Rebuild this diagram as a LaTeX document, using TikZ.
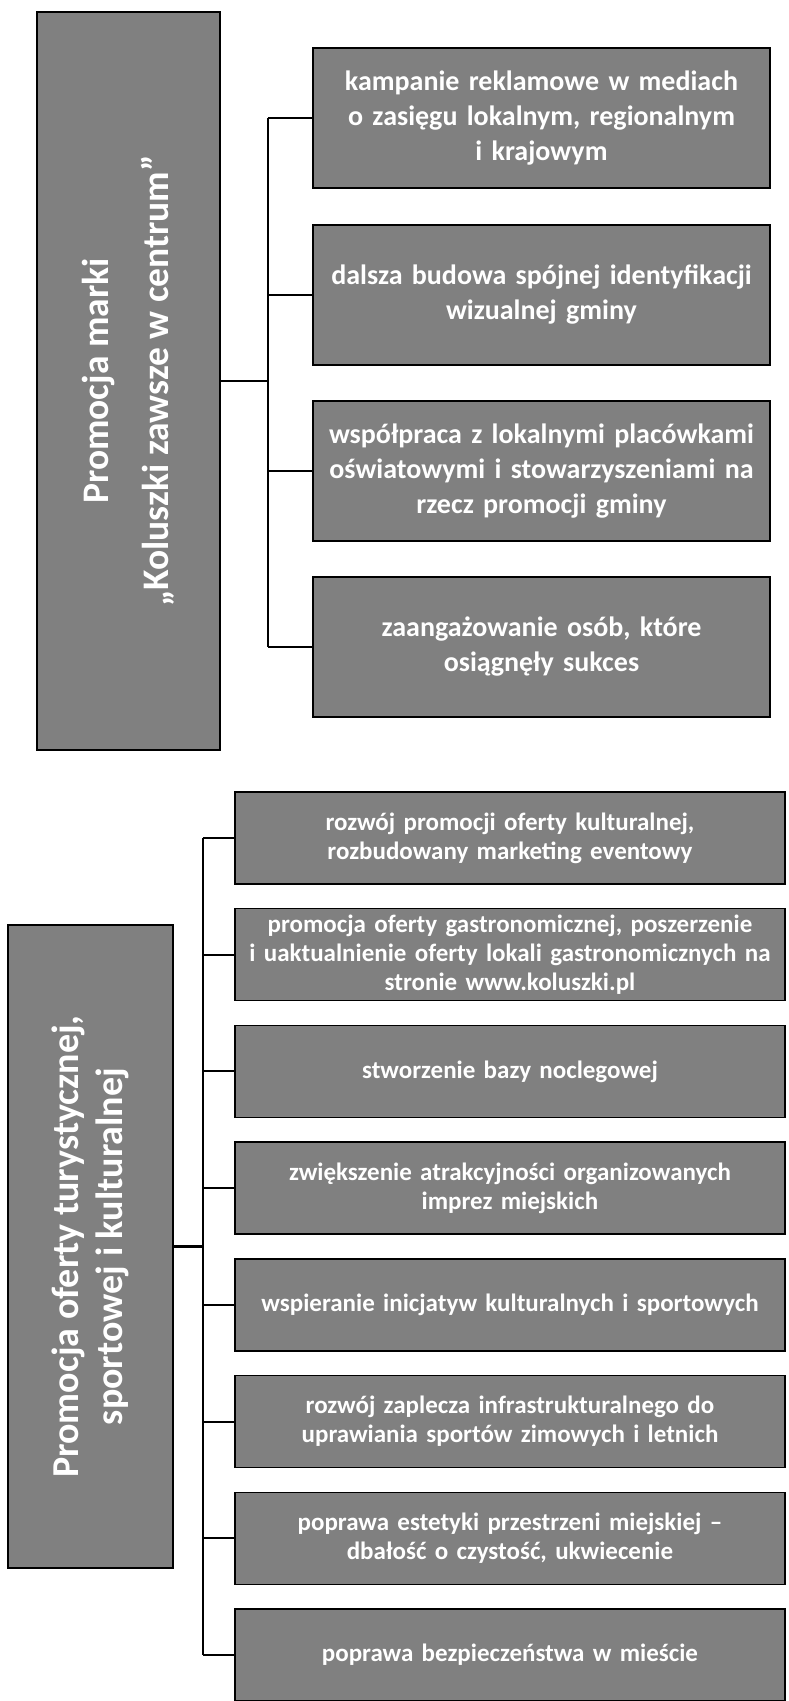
\documentclass[tikz,border=0pt]{standalone}
\usepackage{fontspec}
\setmainfont{Carlito}
\begin{document}
\begin{tikzpicture}[x=1pt,y=-1pt,
	box/.style={draw=black,line width=1.5pt,fill=black!50,text=white,align=center,inner sep=0pt},
	rootbox/.style={box,rotate=90},
	topbox/.style={box,minimum width=457pt,minimum height=140pt,text width=455pt,font=\bfseries\fontsize{28}{35}\selectfont},
	lowbox/.style={box,minimum width=550pt,minimum height=92pt,text width=548pt,font=\bfseries\fontsize{25}{29}\selectfont},
	wire/.style={line width=2.5pt}]
	\useasboundingbox (0,0) rectangle (788,1701);
	% upper part
	\node[rootbox,minimum width=738pt,minimum height=183pt,font=\bfseries\fontsize{37.5}{60}\selectfont] (marka) at (128.5,381) {Promocja marki\\„Koluszki zawsze w centrum”};
	\node[topbox] (kampanie) at (541.5,118) {kampanie reklamowe w mediach\\o zasięgu lokalnym, regionalnym\\i krajowym};
	\node[topbox] (identyfikacja) at (541.5,295) {dalsza budowa spójnej identyfikacji\\wizualnej gminy};
	\node[topbox] (wspolpraca) at (541.5,471) {współpraca z lokalnymi placówkami\\oświatowymi i stowarzyszeniami na\\rzecz promocji gminy};
	\node[topbox] (sukces) at (541.5,647) {zaangażowanie osób, które\\osiągnęły sukces};
	\draw[wire] (marka.south) -- ++(47,0) coordinate (tbus);
	\draw[wire] (tbus |- kampanie.west) -- (tbus |- sukces.west);
	\foreach \n in {kampanie,identyfikacja,wspolpraca,sukces}
		\draw[line width=2pt] (tbus |- \n.west) -- (\n.west);
	% lower part
	\node[rootbox,minimum width=643pt,minimum height=165pt,font=\bfseries\fontsize{38}{44}\selectfont] (oferta) at (90.5,1246.5) {Promocja oferty turystycznej,\\sportowej i kulturalnej};
	\node[lowbox] (kultura) at (510,838) {rozwój promocji oferty kulturalnej,\\rozbudowany marketing eventowy};
	\node[lowbox] (gastro) at (510,954.7) {promocja oferty gastronomicznej, poszerzenie\\i uaktualnienie oferty lokali gastronomicznych na\\stronie www.koluszki.pl};
	\node[lowbox] (nocleg) at (510,1071.4) {stworzenie bazy noclegowej};
	\node[lowbox] (imprezy) at (510,1188.1) {zwiększenie atrakcyjności organizowanych\\imprez miejskich};
	\node[lowbox] (inicjatywy) at (510,1304.9) {wspieranie inicjatyw kulturalnych i sportowych};
	\node[lowbox] (zaplecze) at (510,1421.6) {rozwój zaplecza infrastrukturalnego do\\uprawiania sportów zimowych i letnich};
	\node[lowbox] (estetyka) at (510,1538.3) {poprawa estetyki przestrzeni miejskiej –\\dbałość o czystość, ukwiecenie};
	\node[lowbox] (bezpieczenstwo) at (510,1655) {poprawa bezpieczeństwa w mieście};
	\draw[wire] (oferta.south) -- ++(29,0) coordinate (bbus);
	\draw[wire] (bbus |- kultura.west) -- (bbus |- bezpieczenstwo.west);
	\foreach \n in {kultura,gastro,nocleg,imprezy,inicjatywy,zaplecze,estetyka,bezpieczenstwo}
		\draw[line width=2pt] (bbus |- \n.west) -- (\n.west);
\end{tikzpicture}
\end{document}
